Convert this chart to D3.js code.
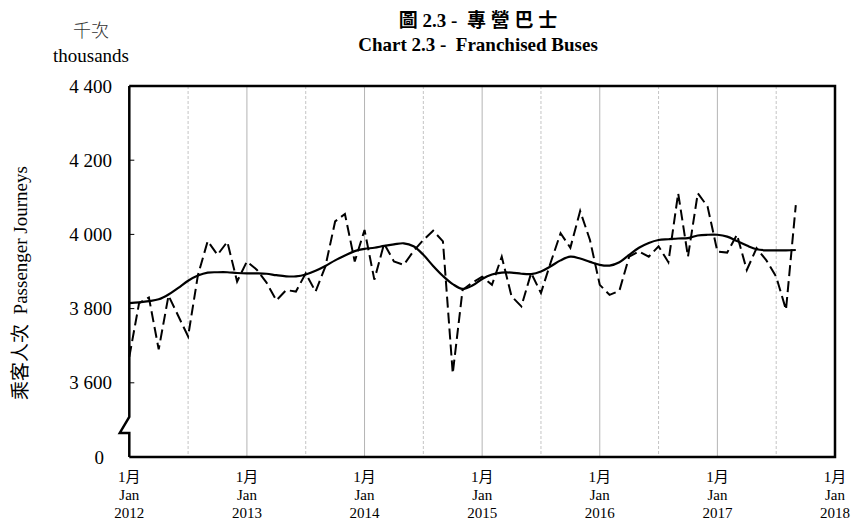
<!DOCTYPE html>
<html>
<head>
<meta charset="utf-8">
<script src="https://cdn.jsdelivr.net/npm/d3@7"></script>
<style>
  body { margin: 0; background: #fff; }
  text { font-family: "Liberation Serif", "Noto Sans CJK TC", serif; fill: #000; }
</style>
</head>
<body>
<div id="chart"></div>
<script>
// monthly passenger journeys (thousands), Jan 2012 .. Sep 2017
const monthly = [3670, 3815, 3830, 3690, 3835, 3780, 3725, 3890, 3982, 3945, 3980, 3873,
  3927, 3905, 3870, 3822, 3850, 3846, 3895, 3846, 3913, 4035, 4055, 3927,
  4012, 3878, 3975, 3927, 3918, 3955, 3985, 4010, 3981, 3625, 3850, 3870,
  3886, 3864, 3940, 3833, 3806, 3896, 3842, 3925, 4003, 3964, 4063, 3985,
  3864, 3837, 3848, 3940, 3954, 3940, 3968, 3925, 4111, 3940, 4111, 4075,
  3954, 3951, 3999, 3904, 3963, 3930, 3886, 3797, 4079];
// trend line
const trend = [3815, 3817, 3820, 3825, 3838, 3856, 3875, 3889, 3897, 3898, 3898, 3896,
  3895, 3895, 3894, 3890, 3887, 3887, 3892, 3902, 3915, 3930, 3943, 3955,
  3961, 3964, 3969, 3973, 3976, 3968, 3945, 3915, 3888, 3866, 3853, 3862,
  3880, 3892, 3897, 3897, 3894, 3893, 3900, 3914, 3930, 3940, 3935, 3926,
  3918, 3916, 3925, 3945, 3964, 3977, 3985, 3987, 3989, 3990, 3997, 3999,
  3999, 3994, 3982, 3970, 3960, 3957, 3957, 3957, 3958];
const years = [2012, 2013, 2014, 2015, 2016, 2017, 2018];
const yTicks = [3600, 3800, 4000, 4200, 4400];

var width = 852, height = 520;
var margin = {top: 86, right: 17, bottom: 63, left: 129.3};

var svg = d3.select("#chart").append("svg")
    .attr("width", width)
    .attr("height", height);

var x = d3.scaleLinear().domain([0, 72]).range([margin.left, width - margin.right]);
var y = d3.scaleLinear().domain([3400, 4400]).range([height - margin.bottom, margin.top]);

// gridlines: solid at January, dashed at July
years.slice(1, -1).forEach(function (yr, i) {
  svg.append("line")
    .attr("x1", x((i + 1) * 12)).attr("x2", x((i + 1) * 12))
    .attr("y1", y(4400)).attr("y2", y(3400))
    .attr("stroke", "#b4b4b4").attr("stroke-width", 1);
});
years.slice(0, -1).forEach(function (yr, i) {
  svg.append("line")
    .attr("x1", x(i * 12 + 6)).attr("x2", x(i * 12 + 6))
    .attr("y1", y(4400)).attr("y2", y(3400))
    .attr("stroke", "#c4c4c4").attr("stroke-width", 1)
    .attr("stroke-dasharray", "3,2");
});

// monthly series (dashed)
var line = d3.line()
    .x(function (d, i) { return x(i); })
    .y(function (d) { return y(d); });

svg.append("path")
    .datum(monthly)
    .attr("d", line)
    .attr("fill", "none")
    .attr("stroke", "#000")
    .attr("stroke-width", 2)
    .attr("stroke-dasharray", "11,5");

// trend (solid, smooth)
var smooth = d3.line()
    .curve(d3.curveCatmullRom)
    .x(function (d, i) { return x(i); })
    .y(function (d) { return y(d); });

svg.append("path")
    .datum(trend)
    .attr("d", smooth)
    .attr("fill", "none")
    .attr("stroke", "#000")
    .attr("stroke-width", 2.2);

// frame: top, right, bottom
var x0 = x(0), x1 = x(72);
svg.append("path")
    .attr("d", "M" + x0 + "," + y(4400) + "H" + x1 + "V" + y(3400) + "H" + x0)
    .attr("fill", "none").attr("stroke", "#000").attr("stroke-width", 2.5);

// left axis with break
var bTop = y(3508), bBot = y(3465);
svg.append("path")
    .attr("d", "M" + x0 + "," + y(4400) + "V" + bTop + "L" + (x0 - 9.5) + "," + bBot +
      "H" + x0 + "V" + y(3400))
    .attr("fill", "none").attr("stroke", "#000").attr("stroke-width", 2.5)
    .attr("stroke-linejoin", "miter");

// y ticks (inward)
yTicks.forEach(function (v) {
  svg.append("line")
    .attr("x1", x0).attr("x2", x0 + 5)
    .attr("y1", y(v)).attr("y2", y(v))
    .attr("stroke", "#000").attr("stroke-width", 1);
});

// y tick labels
var fmt = function (v) { return d3.format(",")(v).replace(",", " "); };
svg.selectAll(".ylab")
    .data(yTicks)
    .enter().append("text")
    .attr("x", 112)
    .attr("y", function (d) { return y(d); })
    .attr("dy", "0.35em")
    .style("text-anchor", "end")
    .style("font-size", "19px")
    .text(fmt);
svg.append("text")
    .attr("x", 104)
    .attr("y", y(3400))
    .attr("dy", "0.35em")
    .style("text-anchor", "end")
    .style("font-size", "19px")
    .text("0");

// x tick labels
years.forEach(function (yr, i) {
  var g = svg.append("g").attr("transform", "translate(" + x(i * 12) + ",0)");
  g.append("text").attr("y", 482).style("text-anchor", "middle")
    .style("font-size", "15px").text("1月");
  g.append("text").attr("y", 500).style("text-anchor", "middle")
    .style("font-size", "15px").text("Jan");
  g.append("text").attr("y", 518).style("text-anchor", "middle")
    .style("font-size", "15px").text(yr);
});

// titles
svg.append("text")
    .attr("x", 478).attr("y", 27)
    .style("text-anchor", "middle")
    .style("font-size", "19px").style("font-weight", "bold")
    .style("white-space", "pre")
    .text("圖 2.3 -  專 營 巴 士");
svg.append("text")
    .attr("x", 478).attr("y", 51)
    .style("text-anchor", "middle")
    .style("font-size", "19px").style("font-weight", "bold")
    .style("white-space", "pre")
    .text("Chart 2.3 -  Franchised Buses");

// units
svg.append("text")
    .attr("x", 91).attr("y", 37)
    .style("text-anchor", "middle")
    .style("font-size", "18px").style("font-weight", "300")
    .style("fill", "#333")
    .text("千次");
svg.append("text")
    .attr("x", 91).attr("y", 62)
    .style("text-anchor", "middle")
    .style("font-size", "19px")
    .text("thousands");

// y axis title
svg.append("text")
    .attr("transform", "translate(27,283) rotate(-90)")
    .style("text-anchor", "middle")
    .style("font-size", "19px")
    .style("white-space", "pre")
    .text("乘客人次  Passenger Journeys");
</script>
</body>
</html>
